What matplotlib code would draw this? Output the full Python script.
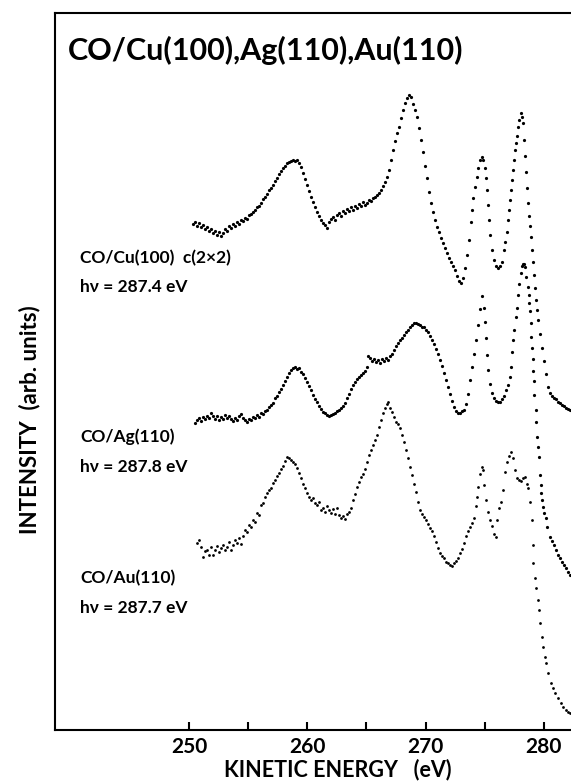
import matplotlib
matplotlib.use("Agg")
import matplotlib.pyplot as plt

plt.rcParams['font.family'] = ['Lato', 'DejaVu Sans']
plt.rcParams['font.weight'] = 'bold'

# kinetic energy (eV) / intensity (arb. units, offset stacked as displayed)
cu_e = [250.34, 250.51, 250.68, 250.85, 251.01, 251.18, 251.35, 251.52, 251.69, 251.86,
        252.03, 252.20, 252.37, 252.54, 252.70, 252.87, 253.04, 253.21, 253.38, 253.55,
        253.72, 253.89, 254.06, 254.23, 254.40, 254.56, 254.73, 254.90, 255.07, 255.24,
        255.41, 255.58, 255.75, 255.92, 256.09, 256.26, 256.42, 256.59, 256.76, 256.93,
        257.10, 257.27, 257.44, 257.61, 257.78, 257.95, 258.12, 258.28, 258.45, 258.62,
        258.79, 258.96, 259.13, 259.30, 259.47, 259.64, 259.81, 259.97, 260.14, 260.31,
        260.48, 260.65, 260.82, 260.99, 261.16, 261.33, 261.50, 261.67, 261.83, 262.00,
        262.17, 262.34, 262.51, 262.68, 262.85, 263.02, 263.19, 263.36, 263.53, 263.69,
        263.86, 264.03, 264.20, 264.37, 264.54, 264.71, 264.88, 265.05, 265.22, 265.38,
        265.55, 265.72, 265.89, 266.06, 266.23, 266.40, 266.57, 266.74, 266.91, 267.08,
        267.24, 267.41, 267.58, 267.75, 267.92, 268.09, 268.26, 268.43, 268.60, 268.77,
        268.94, 269.10, 269.27, 269.44, 269.61, 269.78, 269.95, 270.12, 270.29, 270.46,
        270.63, 270.80, 270.96, 271.13, 271.30, 271.47, 271.64, 271.81, 271.98, 272.15,
        272.32, 272.49, 272.65, 272.82, 272.99, 273.16, 273.33, 273.50, 273.67, 273.84,
        273.92, 274.01, 274.18, 274.35, 274.43, 274.60, 274.77, 274.85, 275.02, 275.10,
        275.19, 275.27, 275.36, 275.44, 275.61, 275.78, 275.95, 276.12, 276.29, 276.46,
        276.63, 276.71, 276.88, 276.97, 277.05, 277.14, 277.22, 277.30, 277.39, 277.47,
        277.56, 277.64, 277.73, 277.81, 277.90, 278.06, 278.15, 278.23, 278.32, 278.40,
        278.49, 278.57, 278.66, 278.74, 278.83, 278.91, 279.00, 279.08, 279.17, 279.25,
        279.34, 279.42, 279.50, 279.67, 279.84, 280.01, 280.18, 280.35, 280.52, 280.69,
        280.86, 281.02, 281.19, 281.36, 281.53, 281.70, 281.87, 282.04, 282.21]
cu_i = [506, 508, 504, 507, 503, 505, 501, 503, 499, 501,
        497, 499, 495, 498, 494, 497, 501, 499, 504, 502,
        506, 504, 508, 506, 510, 509, 512, 511, 515, 516,
        518, 520, 523, 524, 527, 531, 533, 536, 540, 542,
        545, 549, 552, 556, 559, 562, 564, 567, 568, 569,
        570, 569, 570, 567, 563, 557, 551, 545, 539, 533,
        528, 523, 518, 514, 510, 507, 505, 502, 508, 511,
        513, 510, 515, 517, 514, 519, 517, 521, 519, 523,
        520, 524, 522, 526, 524, 528, 525, 527, 530, 529,
        532, 533, 535, 537, 540, 544, 548, 553, 560, 570,
        580, 589, 597, 603, 612, 620, 627, 632, 635, 633,
        626, 620, 613, 602, 590, 578, 564, 552, 538, 527,
        518, 510, 503, 498, 492, 487, 482, 477, 472, 468,
        464, 460, 454, 449, 447, 452, 462, 475, 490, 508,
        520, 532, 543, 553, 562, 570, 573, 570, 562, 552,
        540, 525, 510, 495, 480, 470, 464, 462, 464, 468,
        480, 488, 498, 510, 520, 530, 540, 550, 560, 570,
        580, 587, 594, 603, 610, 617, 613, 607, 590, 574,
        558, 542, 527, 514, 504, 493, 480, 468, 455, 442,
        430, 420, 410, 396, 382, 369, 356, 343, 337, 334,
        332, 331, 328, 327, 325, 324, 322, 321, 320]

ag_e = [250.51, 250.68, 250.85, 251.01, 251.18, 251.35, 251.52, 251.69, 251.86, 252.03,
        252.20, 252.37, 252.54, 252.70, 252.87, 253.04, 253.21, 253.38, 253.55, 253.72,
        253.89, 254.06, 254.23, 254.40, 254.56, 254.73, 254.90, 255.07, 255.24, 255.41,
        255.58, 255.75, 255.92, 256.09, 256.26, 256.42, 256.59, 256.76, 256.93, 257.10,
        257.27, 257.44, 257.61, 257.78, 257.95, 258.12, 258.28, 258.45, 258.62, 258.79,
        258.96, 259.13, 259.30, 259.47, 259.64, 259.81, 259.97, 260.14, 260.31, 260.48,
        260.65, 260.82, 260.99, 261.16, 261.33, 261.50, 261.67, 261.83, 262.00, 262.17,
        262.34, 262.51, 262.68, 262.85, 263.02, 263.19, 263.36, 263.53, 263.69, 263.86,
        264.03, 264.20, 264.37, 264.54, 264.71, 264.88, 265.05, 265.13, 265.30, 265.47,
        265.64, 265.81, 265.98, 266.15, 266.32, 266.48, 266.65, 266.82, 266.99, 267.16,
        267.33, 267.50, 267.67, 267.84, 268.01, 268.17, 268.34, 268.51, 268.68, 268.85,
        269.02, 269.19, 269.36, 269.53, 269.70, 269.87, 270.03, 270.20, 270.37, 270.54,
        270.71, 270.88, 271.05, 271.22, 271.39, 271.56, 271.72, 271.89, 272.06, 272.23,
        272.40, 272.57, 272.74, 272.91, 273.08, 273.25, 273.42, 273.58, 273.75, 273.92,
        274.09, 274.26, 274.43, 274.60, 274.77, 274.94, 275.02, 275.10, 275.19, 275.27,
        275.44, 275.61, 275.78, 275.95, 276.12, 276.29, 276.46, 276.63, 276.80, 276.97,
        277.14, 277.22, 277.30, 277.39, 277.47, 277.64, 277.73, 277.81, 277.90, 278.06,
        278.15, 278.23, 278.32, 278.40, 278.49, 278.66, 278.74, 278.76, 278.83, 278.91,
        278.94, 279.00, 279.08, 279.11, 279.17, 279.20, 279.30, 279.34, 279.42, 279.50,
        279.59, 279.67, 279.76, 279.79, 279.84, 279.92, 280.01, 280.18, 280.26, 280.52,
        280.69, 280.86, 281.02, 281.19, 281.36, 281.53, 281.70, 281.87, 282.04, 282.21]
ag_i = [307, 310, 312, 309, 313, 311, 314, 312, 317, 314,
        311, 314, 310, 313, 311, 315, 312, 314, 311, 309,
        312, 310, 314, 316, 312, 310, 308, 311, 310, 313,
        312, 315, 313, 317, 316, 319, 320, 323, 325, 327,
        332, 334, 338, 341, 345, 349, 353, 357, 360, 362,
        363, 361, 362, 358, 356, 352, 348, 344, 340, 335,
        331, 328, 324, 321, 318, 317, 315, 314, 315, 316,
        317, 319, 320, 322, 324, 327, 332, 336, 341, 345,
        348, 351, 353, 355, 357, 359, 363, 374, 372, 369,
        371, 368, 370, 367, 371, 369, 372, 370, 374, 376,
        380, 384, 387, 390, 392, 395, 398, 400, 403, 405,
        407, 407, 406, 405, 403, 403, 400, 398, 394, 390,
        386, 381, 376, 370, 364, 357, 350, 343, 336, 329,
        323, 319, 317, 317, 319, 320, 326, 336, 350, 363,
        376, 390, 405, 421, 434, 422, 408, 392, 375, 360,
        346, 337, 332, 329, 328, 328, 331, 334, 340, 345,
        353, 363, 378, 390, 400, 413, 422, 435, 446, 457,
        464, 466, 466, 463, 453, 443, 435, 427, 419, 407,
        393, 382, 371, 359, 349, 335, 320, 308, 293, 283,
        273, 255, 245, 237, 230, 223, 217, 212, 203, 193,
        189, 185, 180, 175, 172, 168, 165, 162, 158, 155]

au_e = [250.68, 250.85, 251.01, 251.18, 251.35, 251.52, 251.69, 251.86, 252.03, 252.20,
        252.37, 252.54, 252.70, 252.87, 253.04, 253.21, 253.38, 253.55, 253.72, 253.89,
        254.06, 254.23, 254.40, 254.56, 254.73, 254.90, 255.07, 255.24, 255.41, 255.58,
        255.75, 255.92, 256.09, 256.26, 256.42, 256.59, 256.76, 256.93, 257.10, 257.27,
        257.44, 257.61, 257.78, 257.95, 258.12, 258.28, 258.45, 258.62, 258.79, 258.96,
        259.13, 259.30, 259.47, 259.64, 259.81, 259.97, 260.14, 260.31, 260.48, 260.65,
        260.82, 260.99, 261.16, 261.33, 261.50, 261.67, 261.83, 262.00, 262.17, 262.34,
        262.51, 262.68, 262.85, 263.02, 263.19, 263.36, 263.53, 263.69, 263.86, 264.03,
        264.20, 264.37, 264.54, 264.71, 264.88, 265.05, 265.22, 265.38, 265.55, 265.72,
        265.89, 266.06, 266.23, 266.40, 266.57, 266.74, 266.82, 266.99, 267.16, 267.33,
        267.50, 267.67, 267.84, 268.01, 268.17, 268.34, 268.51, 268.68, 268.85, 269.02,
        269.19, 269.36, 269.53, 269.70, 269.87, 270.03, 270.20, 270.37, 270.54, 270.71,
        270.88, 271.05, 271.22, 271.39, 271.56, 271.72, 271.89, 272.06, 272.23, 272.40,
        272.57, 272.74, 272.91, 273.08, 273.25, 273.42, 273.58, 273.75, 273.92, 274.09,
        274.26, 274.35, 274.43, 274.60, 274.77, 274.85, 274.94, 275.10, 275.27, 275.44,
        275.61, 275.78, 275.95, 276.04, 276.21, 276.37, 276.54, 276.71, 276.88, 277.05,
        277.22, 277.39, 277.56, 277.73, 277.90, 278.06, 278.23, 278.40, 278.57, 278.66,
        278.83, 279.00, 279.08, 279.11, 279.25, 279.34, 279.50, 279.59, 279.67, 279.84,
        279.92, 280.09, 280.18, 280.35, 280.60, 280.77, 280.94, 281.19, 281.45, 281.61,
        281.87, 282.04, 282.21]
au_i = [187, 190, 183, 173, 179, 180, 175, 183, 175, 180,
        184, 178, 182, 185, 180, 183, 188, 180, 185, 190,
        187, 192, 186, 194, 200, 198, 205, 203, 210, 208,
        217, 215, 225, 227, 233, 237, 240, 242, 247, 250,
        254, 257, 261, 264, 269, 273, 272, 270, 268, 266,
        262, 257, 252, 246, 242, 237, 233, 230, 232, 227,
        225, 228, 220, 222, 218, 224, 220, 217, 221, 216,
        222, 215, 212, 214, 211, 216, 218, 222, 230, 236,
        243, 248, 253, 256, 261, 268, 275, 280, 285, 290,
        295, 303, 310, 317, 322, 326, 328, 322, 318, 313,
        308, 306, 302, 295, 288, 280, 272, 263, 255, 246,
        238, 228, 220, 216, 213, 210, 206, 202, 199, 194,
        188, 182, 177, 174, 172, 168, 167, 165, 164, 167,
        169, 172, 177, 181, 187, 194, 199, 203, 207, 212,
        224, 233, 243, 256, 263, 260, 245, 230, 218, 210,
        204, 196, 193, 210, 222, 228, 240, 258, 268, 274,
        278, 272, 260, 252, 250, 249, 252, 253, 246, 242,
        228, 210, 185, 167, 152, 142, 130, 120, 107, 93,
        83, 73, 67, 57, 47, 42, 37, 32, 27, 23,
        20, 18, 17]

fig = plt.figure(figsize=(5.71, 7.82), dpi=100)
ax = fig.add_axes([0.0963, 0.0665, 0.9037, 0.917])

ax.plot(cu_e, cu_i, "o", ms=2.3, color="black", mew=0)
ax.plot(ag_e, ag_i, "o", ms=2.3, color="black", mew=0)
ax.plot(au_e, au_i, "o", ms=2.0, color="black", mew=0)

ax.set_xlim(238.67, 282.29)
ax.set_ylim(0, 717)
ax.spines["right"].set_visible(False)
for s in ("left", "top", "bottom"):
    ax.spines[s].set_linewidth(1.5)
ax.set_yticks([])
ax.set_xticks([250, 260, 270, 280])
ax.set_xticks([255, 265, 275], minor=True)
ax.tick_params(axis="x", which="both", direction="in", length=6, width=1.5, pad=5,
               labelsize=15)
for lab in ax.get_xticklabels():
    lab.set_fontweight("bold")

fig.text(68 / 571, 1 - 50 / 782, "CO/Cu(100),Ag(110),Au(110)", fontsize=22,
         fontweight="bold", va="center", ha="left")

lab_kw = dict(fontsize=12.5, fontweight="bold", va="center", ha="left")
fig.text(80 / 571, 1 - 258 / 782, "CO/Cu(100)  c(2×2)", **lab_kw)
fig.text(80 / 571, 1 - 287 / 782, "hν = 287.4 eV", **lab_kw)
fig.text(80 / 571, 1 - 437 / 782, "CO/Ag(110)", **lab_kw)
fig.text(80 / 571, 1 - 467 / 782, "hν = 287.8 eV", **lab_kw)
fig.text(80 / 571, 1 - 578 / 782, "CO/Au(110)", **lab_kw)
fig.text(80 / 571, 1 - 608 / 782, "hν = 287.7 eV", **lab_kw)

fig.text(338 / 571, 1 - 770 / 782, "KINETIC ENERGY   (eV)", fontsize=15.5,
         fontweight="bold", va="center", ha="center")
fig.text(30 / 571, 1 - 420 / 782, "INTENSITY  (arb. units)", fontsize=16,
         fontweight="bold", va="center", ha="center", rotation=90)

fig.savefig("out.png", dpi=100)
